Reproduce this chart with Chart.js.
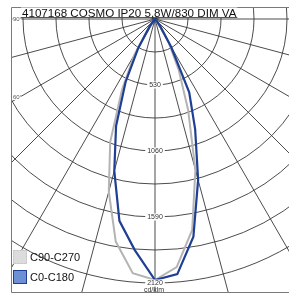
<!DOCTYPE html>
<html>
<head>
<meta charset="utf-8">
<script src="https://cdn.jsdelivr.net/npm/chart.js@4/dist/chart.umd.min.js"></script>
<style>
  html, body { margin: 0; padding: 0; background: #fff; }
  #wrap { width: 289px; height: 295px; }
</style>
</head>
<body>
<div id="wrap"><canvas id="ldc"></canvas></div>
<script>
// Light distribution, cd/klm, gamma angles in degrees
const gammaAngles = [0, 5, 10, 15, 20, 25, 30, 35, 40, 45, 50, 55, 60, 65, 70, 75, 80, 85, 90];
const c0Values   = [2096, 2057, 1776, 1338, 943, 650, 260, 80, 25, 12, 6, 4, 3, 2, 2, 1, 1, 1, 0];
const c180Values = [2096, 1863, 1646, 1263, 914, 560, 270, 80, 25, 12, 6, 4, 3, 2, 2, 1, 1, 1, 0];
const c90Values  = [2096, 2000, 1720, 1253, 778, 450, 220, 70, 22, 10, 5, 3, 2, 2, 1, 1, 1, 0, 0];
const c270Values = [2096, 2049, 1815, 1434, 1052, 629, 330, 100, 30, 12, 6, 4, 3, 2, 2, 1, 1, 1, 0];

// grid
const ringValues = [265, 530, 795, 1060, 1325, 1590, 1855, 2120];
const ringLabels = ["530", "1060", "1590", "2120"];
const spokeAngles = [-180, -165, -150, -135, -120, -105, -90, -75, -60, -45, -30, -15, 0, 15, 30, 45, 60, 75, 90, 105, 120, 135, 150, 165];
const angleLabels = ["90°", "60°", "30°"];

const titleText = "4107168 COSMO IP20 5,8W/830 DIM VA";
const seriesNames = ["C90-C270", "C0-C180"];

// left half (negative x) then right half
function curvePoints(leftVals, rightVals) {
  const pts = [];
  for (let i = gammaAngles.length - 1; i >= 0; i--) {
    const a = gammaAngles[i] * Math.PI / 180;
    pts.push({ x: -leftVals[i] * Math.sin(a), y: leftVals[i] * Math.cos(a) });
  }
  for (let i = 1; i < gammaAngles.length; i++) {
    const a = gammaAngles[i] * Math.PI / 180;
    pts.push({ x: rightVals[i] * Math.sin(a), y: rightVals[i] * Math.cos(a) });
  }
  return pts;
}

const FRAME = { left: 11, top: 7, bottom: 292.5 };

const polarGrid = {
  id: "polarGrid",
  beforeDatasetsDraw(chart) {
    const { ctx, scales: { x, y } } = chart;
    const cx = x.getPixelForValue(0);
    const cy = y.getPixelForValue(0);
    ctx.save();
    ctx.beginPath();
    ctx.rect(FRAME.left, FRAME.top, chart.width, FRAME.bottom - FRAME.top);
    ctx.clip();
    ctx.strokeStyle = "#383838";
    ctx.lineWidth = 0.9;
    ringValues.forEach((v) => {
      const r = y.getPixelForValue(v) - cy;
      ctx.beginPath();
      ctx.arc(cx, cy, r, 0, Math.PI * 2);
      ctx.stroke();
    });
    spokeAngles.forEach((deg) => {
      const a = deg * Math.PI / 180;
      const far = 4000;
      ctx.beginPath();
      ctx.moveTo(cx, cy);
      ctx.lineTo(x.getPixelForValue(far * Math.sin(a)), y.getPixelForValue(far * Math.cos(a)));
      ctx.stroke();
    });
    ctx.restore();
  },
  afterDatasetsDraw(chart) {
    const { ctx, scales: { x, y } } = chart;
    const cx = x.getPixelForValue(0);
    const cy = y.getPixelForValue(0);
    ctx.save();

    // angle labels on the left edge
    ctx.font = "6px 'Liberation Sans', Arial, sans-serif";
    ctx.textBaseline = "middle";
    ctx.textAlign = "left";
    [90, 60, 30].forEach((deg, i) => {
      const a = deg * Math.PI / 180;
      const t = (cx - 20) / Math.sin(a);
      const py = cy + t * Math.cos(a);
      ctx.fillStyle = "#fff";
      ctx.fillRect(12.5, py - 3, 9, 6);
      ctx.fillStyle = "#555";
      ctx.fillText(angleLabels[i], 13, py);
    });

    // ring labels
    ctx.font = "7px 'Liberation Sans', Arial, sans-serif";
    ctx.textAlign = "center";
    ringLabels.forEach((lbl) => {
      const py = y.getPixelForValue(Number(lbl));
      const w = ctx.measureText(lbl).width + 4;
      ctx.fillStyle = "#fff";
      ctx.fillRect(cx - w / 2, py - 3.5, w, 7);
      ctx.fillStyle = "#333";
      ctx.fillText(lbl, cx, py + 0.5);
    });
    ctx.fillText("cd/klm", cx - 1, 290);

    // frame
    ctx.strokeStyle = "#7a7a7a";
    ctx.lineWidth = 1;
    ctx.beginPath();
    ctx.moveTo(chart.width, FRAME.top + 0.5);
    ctx.lineTo(FRAME.left + 0.5, FRAME.top + 0.5);
    ctx.lineTo(FRAME.left + 0.5, FRAME.bottom);
    ctx.lineTo(chart.width, FRAME.bottom);
    ctx.stroke();

    // title box
    ctx.font = "11.6px 'Liberation Sans', Arial, sans-serif";
    ctx.textAlign = "left";
    ctx.textBaseline = "alphabetic";
    const tw = ctx.measureText(titleText).width;
    ctx.fillStyle = "#fff";
    ctx.fillRect(21, 7.5, tw + 2, 10);
    ctx.strokeStyle = "#555";
    ctx.beginPath();
    ctx.moveTo(21, 17.5);
    ctx.lineTo(23 + tw, 17.5);
    ctx.stroke();
    ctx.fillStyle = "#111";
    ctx.fillText(titleText, 22, 17);

    // legend
    ctx.font = "11px 'Liberation Sans', Arial, sans-serif";
    ctx.textBaseline = "middle";
    ctx.fillStyle = "#dcdcdc";
    ctx.fillRect(13, 250, 14, 14);
    ctx.strokeStyle = "#c4c4c4";
    ctx.setLineDash([2, 1]);
    ctx.strokeRect(13.5, 250.5, 13, 13);
    ctx.setLineDash([]);
    ctx.fillStyle = "#6d90d4";
    ctx.fillRect(13, 270, 14, 14);
    ctx.strokeStyle = "#1f3f94";
    ctx.strokeRect(13.5, 270.5, 13, 13);
    ctx.fillStyle = "#111";
    ctx.fillText(seriesNames[0], 30, 257.5);
    ctx.fillText(seriesNames[1], 30, 277.5);
    ctx.restore();
  }
};

// px -> value: 530 cd/klm per 66 px, pole at (155, 19)
const unit = 530 / 66;

new Chart(document.getElementById("ldc"), {
  type: "scatter",
  data: {
    datasets: [
      {
        label: seriesNames[0],
        data: curvePoints(c270Values, c90Values),
        showLine: true,
        borderColor: "#b4b4b4",
        borderWidth: 2,
        pointRadius: 0,
        tension: 0,
        order: 2,
      },
      {
        label: seriesNames[1],
        data: curvePoints(c180Values, c0Values),
        showLine: true,
        borderColor: "#1f3f94",
        borderWidth: 2.2,
        pointRadius: 0,
        tension: 0,
        order: 1,
      },
    ],
  },
  options: {
    responsive: true,
    maintainAspectRatio: false,
    animation: false,
    layout: { padding: 0 },
    plugins: {
      legend: { display: false },
      tooltip: { enabled: false },
    },
    scales: {
      x: { type: "linear", display: false, min: -155 * unit, max: (289 - 155) * unit },
      y: { type: "linear", display: false, reverse: true, min: -19 * unit, max: (295 - 19) * unit },
    },
  },
  plugins: [polarGrid],
});
</script>
</body>
</html>
